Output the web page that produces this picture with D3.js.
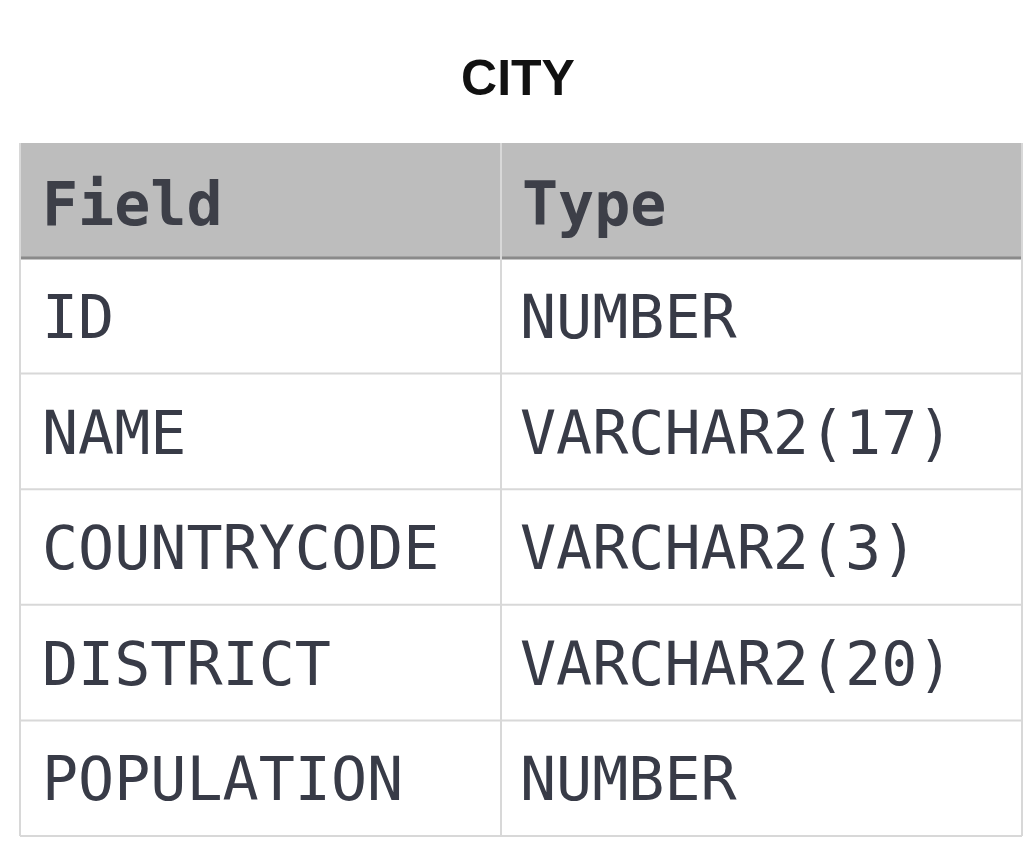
<!DOCTYPE html>
<html>
<head>
<meta charset="utf-8">
<script src="https://cdn.jsdelivr.net/npm/d3@7"></script>
<style>
body { margin: 0; background: #fff; }
</style>
</head>
<body>
<svg id="chart" width="1034" height="856"></svg>
<script>
// Table contents
var title = "CITY";
var headers = ["Field", "Type"];
var fields = ["ID", "NAME", "COUNTRYCODE", "DISTRICT", "POPULATION"];
var types = ["NUMBER", "VARCHAR2(17)", "VARCHAR2(3)", "VARCHAR2(20)", "NUMBER"];

var svg = d3.select("#chart");
var tLeft = 20, tRight = 1022, split = 501;
var tTop = 143, headerH = 115, rowH = 115.6;

var y = d3.scaleBand()
    .domain(d3.range(fields.length))
    .range([tTop + headerH, tTop + headerH + rowH * fields.length]);

svg.append("text")
    .attr("x", 518).attr("y", 95)
    .attr("text-anchor", "middle")
    .style("font-family", "Liberation Sans, Arial, sans-serif")
    .style("font-weight", "bold")
    .style("font-size", "50px")
    .attr("fill", "#111")
    .text(title);

// Header
svg.append("rect")
    .attr("x", tLeft).attr("y", tTop)
    .attr("width", tRight - tLeft).attr("height", headerH)
    .attr("fill", "#bdbdbd");

var textColor = "#383b47";
var mono = "DejaVu Sans Mono, monospace";

svg.selectAll(".hdr").data(headers).enter().append("text")
    .attr("x", (d, i) => i === 0 ? 42 : 522)
    .attr("y", tTop + 82)
    .style("font-family", mono)
    .style("font-weight", "bold")
    .style("font-size", "60px")
    .attr("fill", "#3d3f48")
    .text(d => d);

// Row lines
svg.selectAll(".row").data(fields).enter().append("line")
    .attr("x1", tLeft).attr("x2", tRight)
    .attr("y1", (d, i) => y(i) + y.bandwidth())
    .attr("y2", (d, i) => y(i) + y.bandwidth())
    .attr("stroke", "#d8d8d8").attr("stroke-width", 2);

svg.append("line")
    .attr("x1", tLeft).attr("x2", tRight)
    .attr("y1", tTop + headerH).attr("y2", tTop + headerH)
    .attr("stroke", "#8a8a8a").attr("stroke-width", 3);

// Vertical lines
[tLeft, split, tRight].forEach(function (x) {
    svg.append("line")
        .attr("x1", x).attr("x2", x)
        .attr("y1", tTop).attr("y2", y(fields.length - 1) + y.bandwidth())
        .attr("stroke", "#d8d8d8").attr("stroke-width", 2);
});

svg.selectAll(".fld").data(fields).enter().append("text")
    .attr("x", 42)
    .attr("y", (d, i) => y(i) + 80)
    .style("font-family", mono)
    .style("font-size", "60px")
    .attr("fill", textColor)
    .text(d => d);

svg.selectAll(".typ").data(types).enter().append("text")
    .attr("x", 520)
    .attr("y", (d, i) => y(i) + 80)
    .style("font-family", mono)
    .style("font-size", "60px")
    .attr("fill", textColor)
    .text(d => d);
</script>
</body>
</html>
